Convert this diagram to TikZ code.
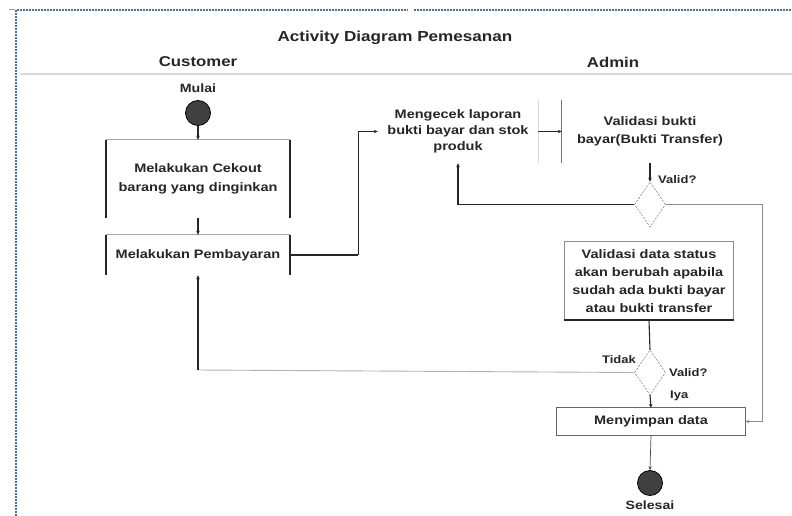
\documentclass[tikz,border=0pt]{standalone}
\usepackage{fontspec}
\setmainfont{Liberation Sans}[FakeStretch=1.18]
\usetikzlibrary{shapes.geometric,arrows.meta}
\definecolor{frameblue}{RGB}{80,110,150}
\begin{document}
\begin{tikzpicture}[x=1pt,y=-1pt,
  txt/.style={font=\fontsize{12.3}{16}\selectfont\bfseries, text=black!85, align=center, inner sep=0pt},
  head/.style={font=\fontsize{14.2}{17}\selectfont\bfseries, text=black!85, inner sep=0pt},
  small/.style={font=\fontsize{11}{13}\selectfont\bfseries, text=black!85, inner sep=0pt},
  actbox/.style={txt, minimum width=184pt},
  cond/.style={diamond, draw=black!65, dashed, dash pattern=on 2pt off 1.5pt, inner sep=0pt, minimum width=31pt, minimum height=45pt},
  dot/.style={circle, fill=black!75, draw=black, line width=0.8pt, minimum size=25pt, inner sep=0pt},
  arr/.style={-{Stealth[length=4pt,width=3.5pt]}, line width=1.1pt, black!85},
  wire/.style={line width=1.1pt, black!85},
  side/.style={line width=1.5pt, black!85},
  edge/.style={line width=0.9pt, black!35}]
\useasboundingbox (0,0) rectangle (792,516);
\fill[white] (0,0) rectangle (792,516);

% page frame
\draw[frameblue, line width=1.2pt, dash pattern=on 2pt off 1pt] (16,516) -- (16,10) -- (408,10);
\draw[frameblue, line width=1.2pt, dash pattern=on 2pt off 1pt] (414,10) -- (792,10);
\draw[black!40, line width=1pt] (9,10) -- (15,10);

% title and swimlane headers
\node[head, font=\fontsize{14.5}{17}\selectfont\bfseries] (title) at (395,38) {Activity Diagram Pemesanan};
\node[head] (cust) at (198,62) {Customer};
\node[head] (adm) at (613,62) {Admin};
\draw[black!15, line width=1.5pt] (20,74) -- (792,74);

% customer lane
\node[small, font=\fontsize{12}{14}\selectfont\bfseries] (mulai) at (198,88) {Mulai};
\node[dot] (start) at (198,113) {};
\node[actbox, minimum height=78pt] (cek) at (198,179) {Melakukan Cekout\\[3pt]barang yang dinginkan};
\draw[edge] (cek.north west) -- (cek.north east);
\draw[side] (cek.north west) -- (cek.south west);
\draw[side] (cek.north east) -- (cek.south east);

\node[actbox, minimum height=40pt] (bayar) at (198,255) {Melakukan Pembayaran};
\draw[edge] (bayar.north west) -- (bayar.north east);
\draw[side] (bayar.north west) -- (bayar.south west);
\draw[side] (bayar.north east) -- (bayar.south east);

% admin lane
\node[txt, minimum width=160pt, minimum height=63pt] (mengecek) at (458,131.5) {Mengecek laporan\\bukti bayar dan stok\\produk};
\draw[black!15, line width=1.2pt] (mengecek.north east) -- (mengecek.south east);

\node[txt, minimum width=176pt, minimum height=63pt] (valbukti) at (650,131.5) {Validasi bukti\\[2pt]bayar(Bukti Transfer)};
\draw[black!55, line width=1.2pt] (valbukti.north west) -- (valbukti.south west);

\node[cond] (d1) at (650,204.5) {};
\node[small, anchor=west] (v1) at (658,180) {Valid?};

\node[txt, minimum width=169pt, minimum height=78pt] (valdata) at (649,281) {Validasi data status\\[2pt]akan berubah apabila\\[2pt]sudah ada bukti bayar\\[2pt]atau bukti transfer};
\draw[black!45, line width=0.9pt] (valdata.south west) -- (valdata.north west) -- (valdata.north east) -- (valdata.south east);
\draw[side] (valdata.south west) -- (valdata.south east);

\node[cond] (d2) at (650,372.5) {};
\node[small, anchor=east] (tidak) at (636,360) {Tidak};
\node[small, anchor=west] (v2) at (669,373) {Valid?};
\node[small, anchor=west] (iya) at (670,396) {Iya};

\node[txt, minimum width=188pt, minimum height=27pt] (simpan) at (651,421.5) {Menyimpan data};
\draw[black!60, line width=0.9pt] (simpan.north west) rectangle (simpan.south east);

\node[dot] (stop) at (650,483) {};
\node[small, font=\fontsize{12}{14}\selectfont\bfseries] (selesai) at (650,505) {Selesai};

% flows
\draw[arr] (start) -- (cek.north);
\draw[arr] (cek.south) -- (bayar.north);
\draw[wire] (bayar.east) -- ++(68,0) coordinate (b1);
\draw[arr] (b1) |- (mengecek.west);
\draw[arr] (mengecek.east) -- (valbukti.west);
\draw[arr] (valbukti.south) -- (d1.north);
\draw[arr] (d1.west) -| (mengecek.south);
\coordinate (rt) at (762,421.5);
\draw[black!45, line width=1pt, -{Stealth[length=4pt,width=3.5pt]}] (d1.east) -| (rt) -- (simpan.east);
\draw[wire] (valdata.south) -- (d2.north);
\draw[black!30, line width=0.9pt] (d2.west) -- (198,370) coordinate (t1);
\draw[arr] (t1) -- (bayar.south);
\draw[arr] (d2.south) -- (simpan.north);
\draw[black!70, line width=0.7pt, -{Stealth[length=4pt,width=3.5pt]}] (simpan.south) -- (stop.north);
\end{tikzpicture}
\end{document}
